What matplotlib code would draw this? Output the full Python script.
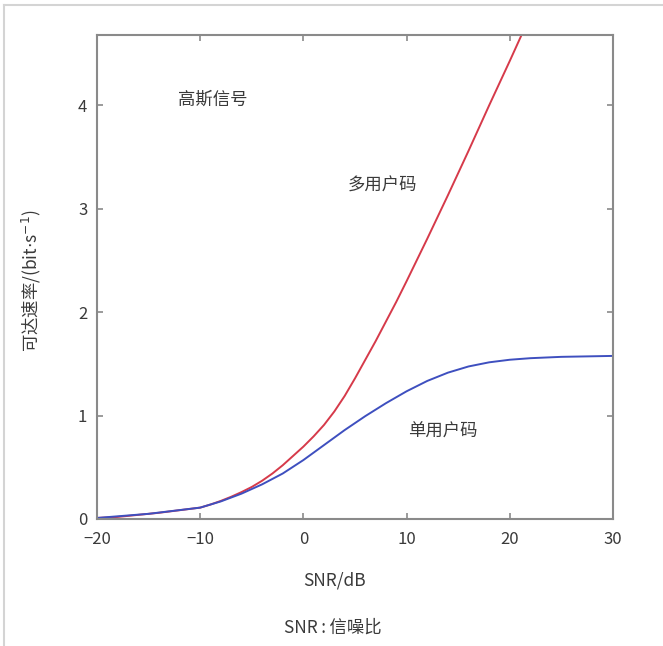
import matplotlib
matplotlib.use("Agg")
import matplotlib.pyplot as plt
from matplotlib.lines import Line2D

plt.rcParams["font.family"] = ["Noto Sans CJK SC", "DejaVu Sans"]

# values
snr_multi = [-20, -18, -16, -14, -12, -10, -9, -8, -7, -6, -5, -4, -3, -2, -1,
             0, 1, 2, 3, 4, 5, 6, 7, 8, 9, 10, 12, 14, 16, 18, 20, 22]
rate_multi = [0.01, 0.02, 0.04, 0.06, 0.085, 0.11, 0.14, 0.175, 0.215, 0.26,
              0.31, 0.37, 0.44, 0.52, 0.61, 0.70, 0.80, 0.91, 1.04, 1.19, 1.36,
              1.54, 1.72, 1.91, 2.10, 2.30, 2.71, 3.13, 3.56, 4.00, 4.43, 4.87]

snr_single = [-20, -15, -10, -8, -6, -4, -2, 0, 2, 4, 6, 8, 10, 12, 14, 16, 18,
              20, 22, 25, 30]
rate_single = [0.01, 0.05, 0.11, 0.17, 0.245, 0.335, 0.44, 0.57, 0.715, 0.86,
               0.995, 1.12, 1.235, 1.335, 1.415, 1.475, 1.515, 1.54, 1.555,
               1.568, 1.577]

x_ticks = [-20, -10, 0, 10, 20, 30]
x_tick_labels = ["\u221220", "\u221210", "0", "10", "20", "30"]
y_ticks = [0, 1, 2, 3, 4]

text_color = "#3a3a3a"
spine_color = "#8a8a8a"

fig = plt.figure(figsize=(6.63, 6.46), dpi=100)
ax = fig.add_axes([0.1463, 0.1966, 0.7783, 0.7492])

ax.plot(snr_multi, rate_multi, color="#d63a4a", lw=1.4)
ax.plot(snr_single, rate_single, color="#3e4fbf", lw=1.4)

ax.set_xlim(-20, 30)
ax.set_ylim(0, 4.68)
ax.set_xticks(x_ticks)
ax.set_xticklabels(x_tick_labels)
ax.set_yticks(y_ticks)

for spine in ax.spines.values():
    spine.set_color(spine_color)
    spine.set_linewidth(1.5)
ax.tick_params(direction="in", top=True, right=True, length=4, width=1.2,
               color=spine_color, labelsize=12, labelcolor=text_color)
ax.tick_params(axis="x", pad=9)
ax.tick_params(axis="y", pad=7)

label_kw = dict(fontsize=12.5, color=text_color)
ax.text(-8.8, 4.05, "高斯信号", ha="center", va="center", **label_kw)
ax.text(7.7, 3.22, "多用户码", ha="center", va="center", **label_kw)
ax.text(13.5, 0.84, "单用户码", ha="center", va="center", **label_kw)

fig.text(0.047, 0.565, "可达速率/(bit${\\cdot}$s$^{-1}$)", rotation=90,
         ha="center", va="center", **label_kw)
fig.text(0.504, 0.102, "SNR/dB", ha="center", va="center", **label_kw)
fig.text(0.502, 0.029, "SNR\u2009:\u2009信噪比", ha="center", va="center", **label_kw)

# light frame along top and left edges
frame_color = "#d4d4d4"
fig.add_artist(Line2D([0.006, 1.0], [0.992, 0.992], color=frame_color, lw=1.5,
                      transform=fig.transFigure))
fig.add_artist(Line2D([0.006, 0.006], [0.0, 0.992], color=frame_color, lw=1.5,
                      transform=fig.transFigure))

fig.savefig("out.png", dpi=100)
